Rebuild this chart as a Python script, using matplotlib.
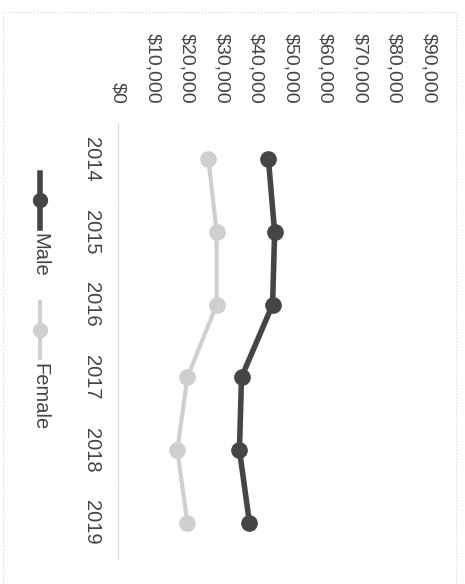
import matplotlib
matplotlib.use("Agg")
import matplotlib.pyplot as plt
from matplotlib.lines import Line2D
from matplotlib.ticker import FuncFormatter

# data
years = ["2014", "2015", "2016", "2017", "2018", "2019"]
male = [43600, 45400, 44800, 35800, 35200, 38100]
female = [26200, 28600, 28600, 20100, 17200, 20100]
value_ticks = [0, 10000, 20000, 30000, 40000, 50000, 60000, 70000, 80000, 90000]

male_color = "#454545"
female_color = "#cfcfcf"
text_color = "#444444"
W, H = 465, 584

plt.rcParams['font.family'] = ['Liberation Sans', 'DejaVu Sans']

fig = plt.figure(figsize=(W / 100, H / 100), dpi=100)


def px(x, y):
    # pixel coords (from top-left) -> figure fraction
    return x / W, 1 - y / H


# chart is drawn rotated a quarter turn: values run left->right, years top->bottom
left, top = px(118, 123)
right, bottom = px(428.5, 559)
ax = fig.add_axes([left, bottom, right - left, top - bottom])

pos = list(range(len(years)))
ax.plot(male, pos, color=male_color, lw=4, marker="o", ms=11, solid_capstyle="round")
ax.plot(female, pos, color=female_color, lw=3, marker="o", ms=11, solid_capstyle="round")

ax.set_xlim(0, 90000)
ax.set_ylim(len(years) - 0.5, -0.5)

ax.xaxis.tick_top()
ax.set_xticks(value_ticks)
ax.xaxis.set_major_formatter(FuncFormatter(lambda v, p: "${:,.0f}".format(v)))
ax.tick_params(axis="x", length=0, pad=14, labelsize=14, labelcolor=text_color)
for lab in ax.get_xticklabels():
    lab.set_rotation(-90)
    lab.set_ha("center")
    lab.set_va("bottom")

ax.set_yticks(pos)
ax.set_yticklabels(years)
ax.tick_params(axis="y", length=0, pad=12, labelsize=14.5, labelcolor=text_color)
for lab in ax.get_yticklabels():
    lab.set_rotation(-90)
    lab.set_ha("right")
    lab.set_va("center")

for s in ["top", "right", "bottom"]:
    ax.spines[s].set_visible(False)
ax.spines["left"].set_color("#d0d0d0")
ax.spines["left"].set_linestyle(":")
ax.spines["left"].set_linewidth(0.8)

# legend, drawn by hand so it can be turned too
legend = [("Male", male_color, 4, 173, 228, 200, 233),
          ("Female", female_color, 3, 302, 358, 330, 363)]
for name, col, lw, y0, y1, ym, yt in legend:
    xa, ya = px(40, y0)
    xb, yb = px(40, y1)
    fig.add_artist(Line2D([xa, xb], [ya, yb], color=col, lw=lw, transform=fig.transFigure))
    xm, ymm = px(40, ym)
    fig.add_artist(Line2D([xm], [ymm], color=col, marker="o", ms=10, transform=fig.transFigure))
    xt, ytt = px(40, yt)
    fig.text(xt, ytt, name, rotation=-90, ha="center", va="top", fontsize=14.5, color=text_color)

# dotted frame around the whole chart
xl, yt0 = px(3, 12)
xr, yb0 = px(456, 590)
fig.add_artist(Line2D([xl, xl, xr, xr], [yb0, yt0, yt0, yb0], color="#d8d8d8", lw=0.8,
                      ls=":", transform=fig.transFigure, clip_on=False))

fig.savefig("out.png", dpi=100, facecolor="white")
